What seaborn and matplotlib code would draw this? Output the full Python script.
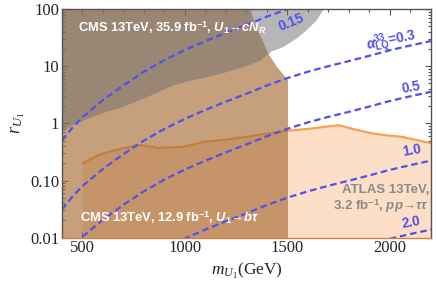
import matplotlib
matplotlib.use("Agg")
import matplotlib.pyplot as plt
import seaborn as sns
import pandas as pd
from matplotlib.ticker import LogLocator, MultipleLocator, NullFormatter

# coupling contours alpha_LQ^33 (m in GeV, r_U1)
a015_m = [400, 450, 500, 600, 700, 800, 900, 1000, 1100, 1200, 1300, 1400, 1500, 1600]
a015_r = [0.50, 0.83, 1.28, 2.56, 4.6, 8.0, 12.8, 19.2, 27.5, 38.4, 52.8, 73.6, 99.2, 128]
a03_m = [400, 450, 500, 600, 700, 800, 900, 1000, 1100, 1200, 1300, 1400, 1500, 1600, 1700, 1800, 1900, 2000, 2100, 2200]
a03_r = [0.031, 0.052, 0.080, 0.16, 0.29, 0.50, 0.80, 1.2, 1.72, 2.4, 3.3, 4.6, 6.2, 8.0, 10.0, 12.3, 15.2, 19.0, 23.0, 27.5]
a05_m = a03_m
a05_r = [0.0040, 0.0067, 0.0104, 0.0207, 0.0376, 0.0648, 0.104, 0.156, 0.223, 0.311, 0.428, 0.596, 0.804, 1.04, 1.30, 1.59, 1.97, 2.46, 2.98, 3.56]
a10_m = [900, 1000, 1100, 1200, 1300, 1400, 1500, 1600, 1700, 1800, 1900, 2000, 2100, 2200]
a10_r = [0.0065, 0.0097, 0.0139, 0.0194, 0.0267, 0.0373, 0.0502, 0.0648, 0.081, 0.0996, 0.123, 0.154, 0.186, 0.223]
a20_m = [1900, 2000, 2100, 2200]
a20_r = [0.0077, 0.0096, 0.0116, 0.0139]

# ATLAS 13TeV 3.2 fb^-1 pp->tautau limit
atlas_m = [500, 580, 660, 760, 780, 870, 990, 1100, 1200, 1300, 1400, 1500, 1600, 1750, 1830, 1900, 1960, 2060, 2140, 2200]
atlas_r = [0.20, 0.28, 0.34, 0.41, 0.42, 0.37, 0.39, 0.48, 0.52, 0.58, 0.66, 0.74, 0.80, 0.93, 0.78, 0.68, 0.63, 0.58, 0.50, 0.45]

# CMS 12.9 fb^-1 U1 -> b tau excluded region (upper edge)
cms129_m = [400, 1317, 1341, 1376, 1399, 1447, 1496, 1500]
cms129_r = [100, 100, 52, 29, 18, 9.8, 6.1, 5.8]

# CMS 35.9 fb^-1 U1 -> c N_R excluded region (lower edge)
cms359_m = [400, 450, 528, 610, 691, 780, 854, 935, 1000, 1100, 1200, 1284, 1366, 1400, 1420, 1477, 1541, 1590, 1639, 1673]
cms359_r = [0.74, 0.95, 1.24, 1.6, 1.96, 2.6, 3.4, 4.6, 5.4, 6.5, 8.0, 9.8, 12.8, 16, 18.5, 22, 31, 43, 64, 100]

alpha_labels = ["0.15", "0.3", "0.5", "1.0", "2.0"]

sns.set_style("ticks")
plt.rcParams.update({
    "font.family": ["Liberation Serif", "DejaVu Serif"],
    "mathtext.fontset": "custom",
    "mathtext.rm": "Liberation Serif",
    "mathtext.it": "Liberation Serif:italic",
    "mathtext.bf": "Liberation Sans:bold",
    "mathtext.bfit": "Liberation Sans:italic:bold",
    "mathtext.sf": "Liberation Sans",
})

blue = "#4f4ff2"
orange = "#f7a24e"
peach = "#fddfc8"
sans = ["Liberation Sans", "DejaVu Sans"]

fig = plt.figure(figsize=(4.36, 2.87), dpi=100)
ax = fig.add_axes([0.1422, 0.1718, 0.8463, 0.7969])

# ATLAS region
ax.fill_between(atlas_m, 0.01, atlas_r, color=peach, lw=0, zorder=1)
sns.lineplot(x=atlas_m, y=atlas_r, ax=ax, color=orange, lw=1.6, zorder=2)

# CMS regions
ax.fill_between(cms129_m, 0.01, cms129_r, color="#a66b34", alpha=0.64, lw=0, zorder=3)
ax.fill_between(cms359_m, cms359_r, 100, color="#6e6e6e", alpha=0.5, lw=0, zorder=4)

# alpha contours
curves = pd.concat([
    pd.DataFrame({"m": m, "r": r, "alpha": lab})
    for m, r, lab in zip([a015_m, a03_m, a05_m, a10_m, a20_m],
                         [a015_r, a03_r, a05_r, a10_r, a20_r], alpha_labels)
])
sns.lineplot(data=curves, x="m", y="r", hue="alpha", palette=[blue] * 5,
             estimator=None, sort=False, legend=False, lw=1.6, ax=ax, zorder=5)
for ln in ax.lines[1:]:
    ln.set_dashes([3, 1.7])

ax.set_yscale("log")
ax.set_xlim(400, 2200)
ax.set_ylim(0.01, 100)
ax.set_xticks([500, 1000, 1500, 2000])
ax.xaxis.set_minor_locator(MultipleLocator(100))
ax.set_yticks([0.01, 0.1, 1, 10, 100])
ax.set_yticklabels(["0.01", "0.10", "1", "10", "100"])
ax.yaxis.set_minor_locator(LogLocator(base=10, subs=range(2, 10)))
ax.yaxis.set_minor_formatter(NullFormatter())
ax.tick_params(which="both", direction="in", top=True, right=True, color="#555555", width=0.8,
               labelsize=12, pad=2)
ax.tick_params(which="major", length=4.5)
ax.tick_params(which="minor", length=2.5)
for s in ax.spines.values():
    s.set_color("#555555")
    s.set_linewidth(1.0)
    s.set_zorder(7)
ax.spines["bottom"].set_color("#c8824a")

ax.set_xlabel(r"$m_{U_{\mathit{1}}}$(GeV)", fontsize=12.5, labelpad=3)
ax.set_ylabel(r"$r_{U_{\mathit{1}}}$", fontsize=13, labelpad=2)

txt = dict(family=sans, fontweight="bold", zorder=8)
ax.text(476, 46.5, r"CMS 13TeV, 35.9 fb$^{\mathbf{-1}}$, $\mathbfit{U}_{\mathbf{1}}$→$\mathbfit{cN}_{\mathbfit{R}}$",
        color="white", fontsize=9.3, va="center", ha="left", **txt)
ax.text(490, 0.022, r"CMS 13TeV, 12.9 fb$^{\mathbf{-1}}$, $\mathbfit{U}_{\mathbf{1}}$→$\mathbfit{b\tau}$",
        color="white", fontsize=9.3, va="center", ha="left", **txt)
ax.text(2190, 0.046, "ATLAS 13TeV,\n" + r"3.2 fb$^{\mathbf{-1}}$, $\mathbfit{pp}$→$\mathbfit{\tau\tau}$",
        color="#8a8a8a", fontsize=9.5, va="center", ha="right", multialignment="right",
        linespacing=1.15, **txt)

ax.text(1517, 59, "0.15", color=blue, fontsize=9.8, rotation=22, ha="center", va="center", **txt)
ax.text(2005, 27.5, r"$\mathbfit{\alpha}_{\mathbf{LQ}}^{\mathbf{33}}$=0.3", color=blue, fontsize=9.8,
        rotation=12, ha="center", va="center", **txt)
ax.text(2102, 4.3, "0.5", color=blue, fontsize=9.8, rotation=10, ha="center", va="center", **txt)
ax.text(2107, 0.33, "1.0", color=blue, fontsize=9.8, rotation=10, ha="center", va="center", **txt)
ax.text(2102, 0.0183, "2.0", color=blue, fontsize=9.8, rotation=10, ha="center", va="center", **txt)

fig.savefig("out.png", dpi=100)
